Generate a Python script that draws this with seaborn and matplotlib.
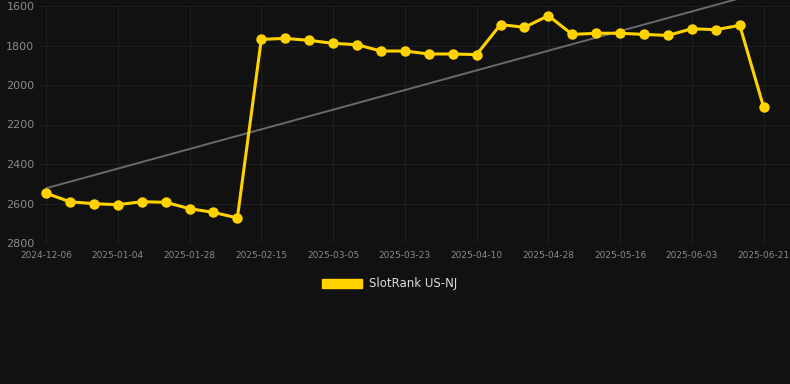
import numpy as np
import pandas as pd
import matplotlib
matplotlib.use("Agg")
import matplotlib.pyplot as plt
import seaborn as sns
from matplotlib.patches import Patch

dates = ["2024-12-06", "2024-12-16", "2024-12-26", "2025-01-04", "2025-01-12",
         "2025-01-20", "2025-01-28", "2025-02-03", "2025-02-09", "2025-02-15",
         "2025-02-21", "2025-02-27", "2025-03-05", "2025-03-11", "2025-03-17",
         "2025-03-23", "2025-03-29", "2025-04-04", "2025-04-10", "2025-04-16",
         "2025-04-22", "2025-04-28", "2025-05-04", "2025-05-10", "2025-05-16",
         "2025-05-22", "2025-05-28", "2025-06-03", "2025-06-09", "2025-06-15",
         "2025-06-21"]
ranks = [2548, 2591, 2601, 2606, 2591, 2594, 2626, 2645, 2673, 1769,
         1764, 1774, 1789, 1796, 1828, 1828, 1843, 1843, 1846, 1694,
         1708, 1649, 1744, 1738, 1738, 1744, 1749, 1715, 1720, 1698,
         2113]
trend_start = 2523
trend_end = 1528
series_name = "SlotRank US-NJ"
y_ticks = [1600, 1800, 2000, 2200, 2400, 2600, 2800]

n = len(dates)
df = pd.DataFrame({"idx": np.arange(n), "date": dates, "rank": ranks})
trend_df = pd.DataFrame({"idx": [0, n - 1], "trend": [trend_start, trend_end]})

sns.set_style("dark")
bg = "#111111"
gold = "#FFD200"
fig = plt.figure(figsize=(7.9, 3.84), dpi=100, facecolor=bg)
ax = fig.add_axes([40 / 790, 1 - 243 / 384, 750 / 790, 237 / 384])
ax.set_facecolor(bg)

sns.lineplot(data=trend_df, x="idx", y="trend", ax=ax, color="#6a6a6a", linewidth=1.4,
             zorder=2, clip_on=False)
sns.lineplot(data=df, x="idx", y="rank", ax=ax, color=gold, linewidth=2.2,
             marker="o", markersize=7.5, markeredgewidth=0, zorder=3, clip_on=False)

ax.set_ylim(2800, 1600)
ax.set_xlim(-0.25, 31.1)
ax.set_yticks(y_ticks)
ax.set_yticklabels([str(v) for v in y_ticks])
tick_idx = list(range(0, n, 3))
ax.set_xticks(tick_idx)
ax.set_xticklabels([dates[i] for i in tick_idx])
ax.grid(True, color="#1f1f1f", linewidth=0.8)
ax.axhline(2800, color="#2a2a2a", linewidth=0.8, zorder=1)
ax.tick_params(axis="y", colors="#8a8a8a", labelsize=8, length=0, pad=4)
ax.tick_params(axis="x", colors="#8a8a8a", labelsize=6.5, length=0, pad=6)
for s in ax.spines.values():
    s.set_visible(False)
ax.set_xlabel("")
ax.set_ylabel("")

handle = Patch(facecolor=gold, edgecolor=gold)
fig.legend([handle], [series_name], loc="center", bbox_to_anchor=(390 / 790, 1 - 284 / 384),
           frameon=False, handlelength=3.4, handleheight=0.85, handletextpad=0.6,
           fontsize=8.5, labelcolor="#dddddd")

fig.savefig("out.png", dpi=100, facecolor=bg)
